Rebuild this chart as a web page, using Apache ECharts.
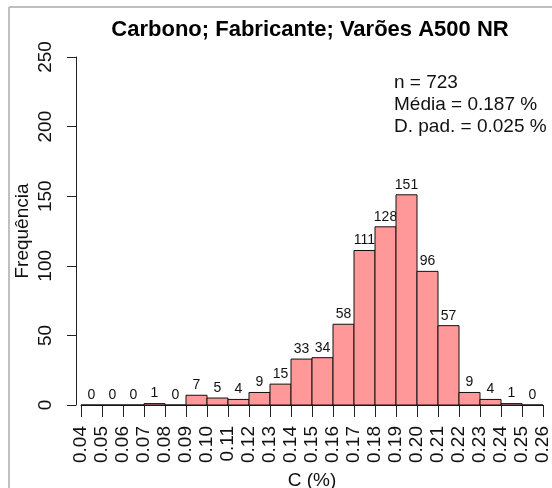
<!DOCTYPE html>
<html>
<head>
<meta charset="utf-8">
<script src="https://cdn.jsdelivr.net/npm/echarts@6/dist/echarts.min.js"></script>
<style>
  html, body { margin: 0; padding: 0; background: #fff; }
  #chart { width: 552px; height: 488px; }
</style>
</head>
<body>
<div id="chart"></div>
<script>
// histogram bins: left edges (C %), width 0.01
var binStarts = [0.04, 0.05, 0.06, 0.07, 0.08, 0.09, 0.10, 0.11, 0.12, 0.13, 0.14,
                 0.15, 0.16, 0.17, 0.18, 0.19, 0.20, 0.21, 0.22, 0.23, 0.24, 0.25];
var binWidth = 0.01;
var counts = [0, 0, 0, 1, 0, 7, 5, 4, 9, 15, 33, 34, 58, 111, 128, 151, 96, 57, 9, 4, 1, 0];
var titleText = 'Carbono; Fabricante; Varões A500 NR';
var statLines = ['n = 723', 'Média = 0.187 %', 'D. pad. = 0.025 %'];
var xName = 'C (%)';
var yName = 'Frequência';

(function () {
  var FONT = '"Liberation Sans", Arial, sans-serif';
  var AXIS = '#222';
  var chart = echarts.init(document.getElementById('chart'));

  var data = binStarts.map(function (s, i) { return [s, s + binWidth, counts[i]]; });

  function renderBin(params, api) {
    var x0 = api.value(0), x1 = api.value(1), n = api.value(2);
    var p0 = api.coord([x0, 0]);
    var p1 = api.coord([x1, n]);
    return {
      type: 'group',
      children: [
        {
          type: 'rect',
          shape: { x: p0[0], y: p1[1], width: p1[0] - p0[0], height: p0[1] - p1[1] },
          style: { fill: '#ff9999', stroke: '#111', lineWidth: 1 }
        },
        {
          type: 'text',
          style: {
            x: (p0[0] + p1[0]) / 2, y: p1[1] - 3,
            text: String(n), align: 'center', verticalAlign: 'bottom',
            fontSize: 14, fontFamily: FONT, fill: '#111'
          }
        }
      ]
    };
  }

  var option = {
    animation: false,
    textStyle: { fontFamily: FONT },
    title: {
      text: titleText,
      left: 305, top: 14, textAlign: 'center',
      textStyle: { fontSize: 22, fontWeight: 'bold', color: '#000', fontFamily: FONT }
    },
    grid: { left: 81, right: 9, top: 57, bottom: 83, outerBoundsMode: 'none', containLabel: false },
    xAxis: {
      type: 'value', min: 0.04, max: 0.26, interval: 0.01,
      name: xName, nameLocation: 'middle', nameGap: 66, nameMoveOverlap: false,
      nameTextStyle: { fontSize: 19, color: '#111', fontFamily: FONT },
      axisLine: { show: true, onZero: false, lineStyle: { color: AXIS, width: 1 } },
      axisTick: { show: true, length: 12, lineStyle: { color: AXIS } },
      splitLine: { show: false },
      axisLabel: {
        rotate: 90, margin: 21, fontSize: 19, color: '#111', fontFamily: FONT,
        showMinLabel: true, showMaxLabel: true, hideOverlap: false,
        formatter: function (v) { return v.toFixed(2); }
      }
    },
    yAxis: {
      type: 'value', min: 0, max: 250, interval: 50, offset: 5,
      name: yName, nameLocation: 'middle', nameGap: 44, nameRotate: 90, nameMoveOverlap: false,
      nameTextStyle: { fontSize: 19, color: '#111', fontFamily: FONT },
      axisLine: { show: true, lineStyle: { color: AXIS, width: 1 } },
      axisTick: { show: true, length: 9, lineStyle: { color: AXIS } },
      splitLine: { show: false },
      axisLabel: { rotate: 90, margin: 21, fontSize: 19, color: '#111', fontFamily: FONT }
    },
    series: [{
      type: 'custom',
      renderItem: renderBin,
      encode: { x: [0, 1], y: 2 },
      data: data,
      clip: false
    }],
    graphic: [
      { type: 'line', shape: { x1: 9, y1: 7, x2: 552, y2: 7 }, style: { stroke: '#bfbfbf', lineWidth: 2 } },
      { type: 'line', shape: { x1: 9, y1: 7, x2: 9, y2: 488 }, style: { stroke: '#bfbfbf', lineWidth: 2 } }
    ].concat(statLines.map(function (t, i) {
      return {
        type: 'text', left: 394, top: 73 + i * 22,
        style: { text: t, fontSize: 19, fontFamily: FONT, fill: '#111' }
      };
    }))
  };

  chart.setOption(option);
})();
</script>
</body>
</html>
